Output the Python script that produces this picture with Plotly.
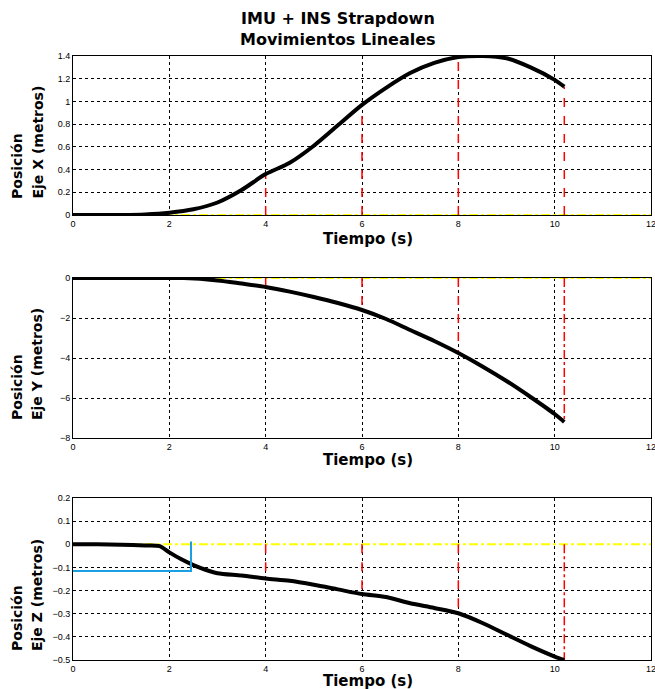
import plotly.graph_objects as go

# ---- data ----
t_x = [0, 0.5, 1.0, 1.5, 2.0, 2.5, 3.0, 3.5, 4.0, 4.5, 5.0, 5.5, 6.0, 6.5, 7.0, 7.5, 8.0, 8.5, 9.0, 9.5, 10.0, 10.2]
pos_x = [0, 0, 0, 0.005, 0.02, 0.05, 0.11, 0.22, 0.36, 0.46, 0.61, 0.79, 0.97, 1.12, 1.25, 1.34, 1.39, 1.40, 1.38, 1.30, 1.19, 1.13]

t_y = [0, 0.5, 1.0, 1.5, 2.0, 2.3, 3.0, 3.5, 4.0, 4.5, 5.0, 5.5, 6.0, 6.5, 7.0, 7.5, 8.0, 8.5, 9.0, 9.5, 10.0, 10.2]
pos_y = [0, 0, 0, 0, 0, 0, -0.12, -0.28, -0.45, -0.68, -0.95, -1.25, -1.6, -2.05, -2.6, -3.15, -3.75, -4.42, -5.15, -5.95, -6.8, -7.2]

t_z = [0, 0.5, 1.0, 1.5, 1.8, 2.0, 2.25, 2.5, 2.75, 3.0, 3.5, 4.0, 4.5, 5.0, 5.5, 6.0, 6.5, 7.0, 7.5, 8.0, 8.5, 9.0, 9.5, 10.0, 10.2]
pos_z = [0, 0, -0.002, -0.005, -0.008, -0.035, -0.065, -0.09, -0.11, -0.125, -0.135, -0.148, -0.158, -0.175, -0.195, -0.215, -0.228, -0.255, -0.275, -0.298, -0.34, -0.39, -0.44, -0.485, -0.5]

mark_t = [4, 6, 8, 10.2]
mark_x = [0.36, 0.97, 1.38, 1.13]
mark_y = [-0.45, -1.6, -3.75, -7.2]
mark_z = [-0.148, -0.215, -0.298, -0.5]

blue_t = [0, 2.45, 2.45]
blue_z = [-0.115, -0.115, 0.012]

x_ticks = [0, 2, 4, 6, 8, 10, 12]
yx_ticks = [0, 0.2, 0.4, 0.6, 0.8, 1, 1.2, 1.4]
yy_ticks = [-8, -6, -4, -2, 0]
yz_ticks = [-0.5, -0.4, -0.3, -0.2, -0.1, 0, 0.1, 0.2]

W, H = 655, 689
ML = 73
MR = W - 651
PW = W - ML - MR


def px_x(p):
    return (p - ML) / PW


def px_y(p):
    return 1 - p / H


fig = go.Figure()

panels = [
    (t_x, pos_x, mark_x, "x", "y", [0, 1.4], yx_ticks, (56, 215), "Eje X (metros)", 239, 200),
    (t_y, pos_y, mark_y, "x2", "y2", [-8, 0], yy_ticks, (278, 438), "Eje Y (metros)", 460, 421),
    (t_z, pos_z, mark_z, "x3", "y3", [-0.5, 0.2], yz_ticks, (498, 660), "Eje Z (metros)", 681, 652),
]

for i, (tt, vv, mk, xa, ya, yr, yt, (ptop, pbot), lab, tiempo_y, lab_bot) in enumerate(panels):
    fig.add_trace(go.Scatter(x=[0, 12], y=[0, 0], mode="lines", xaxis=xa, yaxis=ya,
                             line=dict(color="#ffff00", width=2, dash="dashdot"), showlegend=False))
    for j, (mt, mv) in enumerate(zip(mark_t, mk)):
        fig.add_trace(go.Scatter(x=[mt, mt], y=[0, mv], mode="lines", xaxis=xa, yaxis=ya,
                                 line=dict(color="#ff0000", width=1.5,
                                           dash="dashdot" if (j == 3 and i > 0) else "dash"),
                                 showlegend=False))
    fig.add_trace(go.Scatter(x=tt, y=vv, mode="lines", xaxis=xa, yaxis=ya,
                             line=dict(color="black", width=4, shape="spline", smoothing=0.8),
                             showlegend=False))
    sfx = "" if i == 0 else str(i + 1)
    dom = [px_y(pbot), px_y(ptop)]
    common = dict(showgrid=True, gridcolor="black", griddash="dot", gridwidth=1,
                  showline=True, linecolor="black", linewidth=1, mirror=True,
                  ticks="", zeroline=False, automargin=False, ticklabeloverflow="allow",
                  tickfont=dict(family="Liberation Sans", size=9, color="black"))
    fig.layout["xaxis" + sfx] = dict(domain=[0, 1], range=[0, 12], tickvals=x_ticks,
                                     anchor=ya, **common)
    fig.layout["yaxis" + sfx] = dict(domain=dom, range=yr, tickvals=yt, anchor=xa, **common)
    fig.add_annotation(x=px_x(368), y=px_y(tiempo_y), xref="paper", yref="paper",
                       text="<b>Tiempo (s)</b>", showarrow=False, xanchor="center", yanchor="middle",
                       font=dict(family="DejaVu Sans", size=15, color="black"))
    for txt, cx in (("Posición", 17), (lab, 37)):
        fig.add_annotation(x=px_x(cx), y=px_y(lab_bot), xref="paper", yref="paper", textangle=-90,
                           xanchor="center", yanchor="bottom", text="<b>" + txt + "</b>",
                           showarrow=False, borderpad=0,
                           font=dict(family="DejaVu Sans", size=14, color="black"))

fig.add_trace(go.Scatter(x=blue_t, y=blue_z, mode="lines", xaxis="x3", yaxis="y3",
                         line=dict(color="#1aa0e0", width=2), showlegend=False))

for txt, cy in (("IMU + INS Strapdown", 18), ("Movimientos Lineales", 40)):
    fig.add_annotation(x=px_x(338), y=px_y(cy), xref="paper", yref="paper",
                       text="<b>" + txt + "</b>", showarrow=False,
                       xanchor="center", yanchor="middle",
                       font=dict(family="DejaVu Sans", size=16, color="black"))

fig.update_layout(width=W, height=H, margin=dict(l=ML, r=MR, t=0, b=0),
                  paper_bgcolor="white", plot_bgcolor="white", showlegend=False)

fig.write_html("out.html", config={"displayModeBar": False},
               post_script="document.body.style.margin='0px';document.body.style.overflow='hidden';")
